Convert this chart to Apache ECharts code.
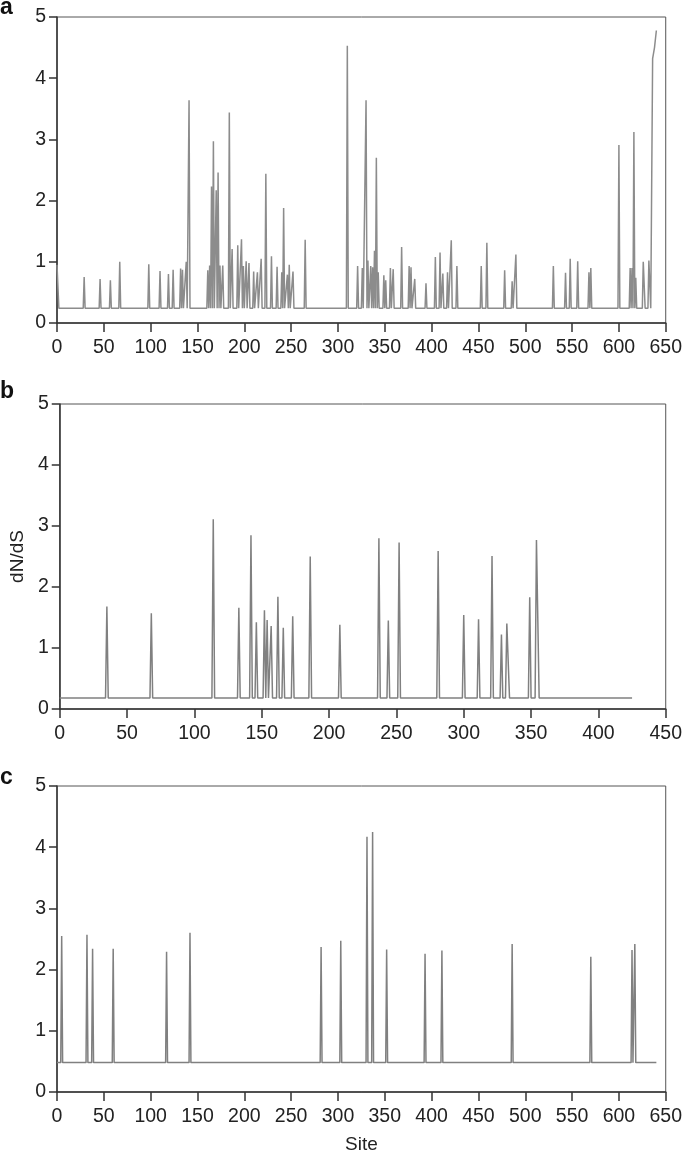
<!DOCTYPE html>
<html>
<head>
<meta charset="utf-8">
<script src="https://cdn.jsdelivr.net/npm/echarts@6/dist/echarts.min.js"></script>
<style>
  html, body { margin: 0; padding: 0; background: #fff; }
  #main { width: 685px; height: 1155px; }
</style>
</head>
<body>
<div id="main"></div>
<script>
// spikes: [site, dN/dS]
var peaksA = [[0,0.95],[1,0.95],[29,0.75],[46,0.72],[57,0.70],[67,1.0],[98,0.96],[110,0.85],[119,0.80],[124,0.87],
  [132,0.89],[134,0.87],[138,1.0],[141,3.64],[161,0.86],[163,0.94],[165,2.23],[167,2.97],[170,2.17],[172,2.46],
  [174,0.94],[177,0.94],[184,3.44],[187,1.21],[193,1.27],[197,1.37],[199,0.93],[202,1.01],[205,0.98],[210,0.84],
  [214,0.83],[218,1.05],[223,2.44],[229,1.09],[235,0.92],[240,0.83],[242,1.88],[246,0.79],[248,0.95],[252,0.84],
  [265,1.36],[310,4.53],[321,0.93],[326,0.90],[330,3.64],[332,1.02],[335,0.93],[337,0.91],[339,1.18],[341,2.70],
  [343,0.83],[349,0.78],[351,0.70],[356,0.90],[359,0.88],[368,1.24],[376,0.93],[378,0.91],[382,0.72],[394,0.65],
  [404,1.08],[409,1.15],[412,0.81],[417,0.83],[421,1.35],[427,0.93],[453,0.93],[459,1.31],[478,0.86],[486,0.68],
  [490,1.12],[530,0.93],[543,0.82],[548,1.05],[556,1.01],[568,0.83],[570,0.90],[600,2.91],[612,0.90],[614,0.90],
  [616,3.12],[618,0.74],[626,1.0],[627,1.01],[632,1.02],[633,1.02],[636,4.32],[637,4.32],[638,4.5],[639,4.64],[640,4.78]];
var peaksB = [[35,1.68],[68,1.57],[114,3.11],[133,1.66],[142,2.85],[146,1.42],[152,1.62],[154,1.46],[157,1.36],
  [162,1.84],[166,1.33],[173,1.52],[186,2.50],[208,1.38],[237,2.80],[244,1.45],[252,2.73],[281,2.59],[300,1.54],
  [311,1.47],[321,2.51],[328,1.22],[332,1.40],[333,1.43],[349,1.83],[354,2.77],[355,2.75]];
var peaksC = [[5,2.55],[32,2.57],[38,2.34],[60,2.34],[117,2.29],[142,2.60],[282,2.37],[303,2.47],[331,4.17],
  [337,4.25],[352,2.33],[393,2.26],[411,2.31],[486,2.42],[570,2.21],[614,2.32],[617,2.42]];

// baseline level and last site of each panel
var baseA = 0.24, endA = 640;
var baseB = 0.18, endB = 425;
var baseC = 0.48, endC = 640;

var xMaxA = 650, xMaxB = 450, xMaxC = 650;
var yTicks = [0, 1, 2, 3, 4, 5];

function buildLine(peaks, base, start, end) {
  var pts = [];
  if (peaks[0][0] > start) pts.push([start, base]);
  peaks.forEach(function (p, i) {
    var s = p[0];
    var prev = pts.length ? pts[pts.length - 1][0] : -Infinity;
    if (s - 1 > prev && s - 1 >= start) pts.push([s - 1, base]);
    pts.push(p);
    var next = i + 1 < peaks.length ? peaks[i + 1][0] : Infinity;
    if (s + 1 < next && s + 1 <= end) pts.push([s + 1, base]);
  });
  if (pts[pts.length - 1][0] < end) pts.push([end, base]);
  return pts;
}

var font = 'Liberation Sans, Arial, sans-serif';

function xAxis(idx, max, name) {
  return {
    gridIndex: idx, type: 'value', min: 0, max: max, interval: 50,
    name: name || '', nameLocation: 'middle', nameGap: 43,
    nameTextStyle: { fontSize: 19, color: '#222', fontFamily: font },
    axisLine: { lineStyle: { color: '#333', width: 1.5 } },
    axisTick: { inside: false, length: 9, lineStyle: { color: '#333', width: 1.5 } },
    axisLabel: { fontSize: 19.5, color: '#222', margin: 15, fontFamily: font },
    splitLine: { show: false }
  };
}
function yAxis(idx, name) {
  return {
    gridIndex: idx, type: 'value', min: yTicks[0], max: yTicks[yTicks.length - 1], interval: 1,
    name: name || '', nameLocation: 'middle', nameGap: 31,
    nameTextStyle: { fontSize: 19, color: '#222', fontFamily: font },
    axisLine: { show: true, lineStyle: { color: '#333', width: 1.5 } },
    axisTick: { show: true, inside: false, length: 8, lineStyle: { color: '#333', width: 1.5 } },
    axisLabel: { fontSize: 19.5, color: '#222', margin: 11, fontFamily: font },
    splitLine: { show: false }
  };
}
function lineSeries(idx, data, color) {
  return {
    type: 'line', xAxisIndex: idx, yAxisIndex: idx, data: data,
    showSymbol: false, symbol: 'none',
    lineStyle: { color: color, width: 1.5 }
  };
}

var chart = echarts.init(document.getElementById('main'));
chart.setOption({
  animation: false,
  backgroundColor: '#fff',
  grid: [
    { left: 57, top: 17, width: 611, height: 306, show: true, borderColor: '#555', borderWidth: 1 },
    { left: 57, top: 404, width: 611, height: 305, show: true, borderColor: '#555', borderWidth: 1 },
    { left: 57, top: 786, width: 611, height: 307, show: true, borderColor: '#555', borderWidth: 1 }
  ],
  xAxis: [xAxis(0, xMaxA), xAxis(1, xMaxB), xAxis(2, xMaxC, 'Site')],
  yAxis: [yAxis(0), yAxis(1, 'dN/dS'), yAxis(2)],
  series: [
    lineSeries(0, buildLine(peaksA, baseA, 0, endA), '#8c8c8c'),
    lineSeries(1, buildLine(peaksB, baseB, 0, endB), '#808080'),
    lineSeries(2, buildLine(peaksC, baseC, 0, endC), '#808080')
  ],
  graphic: [
    { type: 'text', left: 0, top: -4, style: { text: 'a', font: 'bold 23px ' + font, fill: '#111' } },
    { type: 'text', left: 0, top: 380, style: { text: 'b', font: 'bold 23px ' + font, fill: '#111' } },
    { type: 'text', left: 0, top: 766, style: { text: 'c', font: 'bold 23px ' + font, fill: '#111' } }
  ]
});
</script>
</body>
</html>
